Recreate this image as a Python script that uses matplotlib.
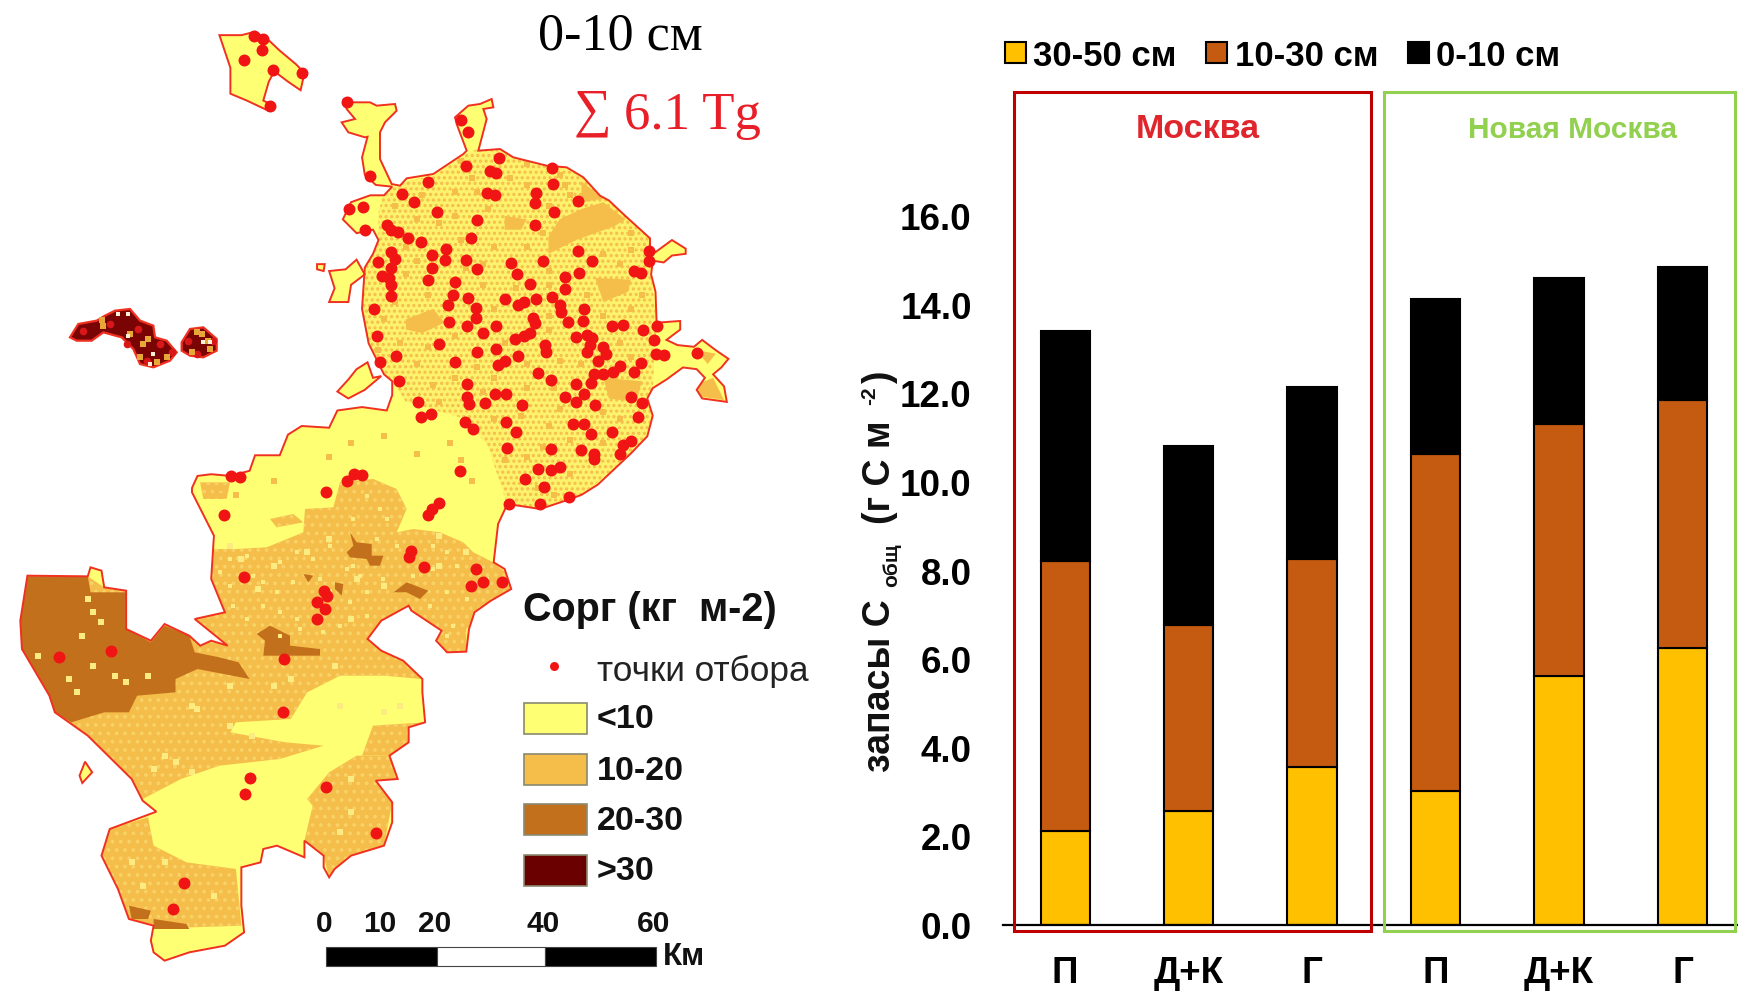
import matplotlib
matplotlib.use("Agg")
import matplotlib.pyplot as plt
from matplotlib.patches import Polygon, Rectangle
import numpy as np

plt.rcParams['font.family'] = ['Liberation Sans', 'DejaVu Sans']
plt.rcParams['hatch.linewidth'] = 1.5

# stacked bars
groups = ["П", "Д+К", "Г", "П", "Д+К", "Г"]
depth_30_50 = [2.10, 2.56, 3.56, 3.01, 5.60, 6.25]
depth_10_30 = [6.10, 4.21, 4.68, 7.60, 5.70, 5.58]
depth_0_10 = [5.19, 4.04, 3.89, 3.50, 3.29, 3.02]
y_ticks = [0, 2, 4, 6, 8, 10, 12, 14, 16]

map_classes = ["<10", "10-20", "20-30", ">30"]
class_colors = ["#FFFF73", "#F5BE4A", "#C2701C", "#6B0000"]
scale_labels = ["0", "10", "20", "40", "60"]

def north(pts):
    return np.array(pts, dtype=float) / [1.823, 2.904]

def south(pts):
    return np.array(pts, dtype=float) / [1.823, 3.0] + [0, 480]

def crop(pts, x0, y0):
    return np.array(pts, dtype=float) / 3 + [x0, y0]

outline_a = [(1110,585),(1140,630),(1185,695),(1185,720),(1195,735),(1225,700),(1250,725),(1250,740),
    (1225,745),(1210,765),(1190,760),(1187,800),(1195,850),(1197,940),(1240,935),(1240,960),(1215,990),(1235,1005),
    (1265,1010),(1280,990),(1305,1020),(1328,1045),(1315,1070),(1300,1090),(1320,1125),(1325,1170),(1280,1160),
    (1270,1135),(1285,1100),(1270,1075),(1245,1070),(1215,1105),(1190,1130),(1180,1160),(1190,1210),(1180,1270),
    (1150,1320),(1120,1365),(1090,1410),(1060,1440)]
outline_b = [(1040,60),(985,90),(925,75),(908,135),(900,250),(920,270),(932,330),(895,365),(865,400),(855,450),
    (850,518),(815,520),(795,485),(805,455),(750,395),(745,380),(695,425),(670,480),(695,515),(735,545),(770,600),
    (770,640),(775,730),(745,745),(745,790),(710,830),(725,900),(685,905),(715,970),(715,1030),(700,1100),(640,1130),
    (610,1170),(600,1195),(590,1165),(590,1130),(555,1085),(555,1135),(505,1100),(480,1110),(475,1150),(440,1165),
    (440,1280),(445,1360),(410,1400),(345,1420),(300,1445),(280,1420),(275,1385),(280,1340),(235,1320),(215,1230),
    (185,1130),(200,1050),(285,998),(260,965),(240,900),(160,770),(100,700),(90,650),(40,510),(37,425),(50,290),
    (160,292),(165,265),(185,275),(190,325),(230,335),(230,450),(275,485),(300,435),(345,470),(365,500),(385,485),
    (415,500),(355,420),(410,400),(385,300),(390,170),(350,40)]
outline_c = [(350,1420),(360,1385),(385,1380),(420,1385),(455,1370),(465,1325),(510,1325),(525,1265),(550,1240),
    (600,1245),(615,1195),(660,1185),(705,1195),(715,1150),(715,1110),(700,1090),(672,1000),(660,900),(665,780),
    (680,740),(690,700),(680,670),(650,680),(625,640),(640,590),(675,570),(700,570),(715,545),(685,540),(665,510),
    (660,460),(670,400)]
# north rim, from a closer crop at x=320, y=90
outline_top = [(135,145),(85,130),(65,100),(105,90),(80,60),(70,30),(100,40),(150,40),(170,50),(225,45),(230,65),(195,100),
    (180,130),(180,210),(215,285),(240,290),(260,268),(340,255),(430,195),(440,185),(410,105),(405,85),(445,50),(480,45),
    (515,30),(520,55),(490,60),(500,90),(475,185),(540,180),(580,205),(680,230),(740,235),(790,265),(840,320)]
west_lobe_1 = [(615,1140),(635,1105),(650,1075),(670,1055),(680,1100),(695,1095),(665,1135),(635,1160)]
west_lobe_2 = [(600,880),(610,840),(600,790),(630,785),(650,757),(665,800),(640,830),(635,880)]
tiny_lobe = [(578,770),(592,770),(590,790),(578,785)]
north_island = [(400,105),(440,105),(465,95),(490,120),(510,150),(540,190),(555,215),(548,265),(525,240),(500,210),
    (490,240),(480,295),(500,310),(490,325),(450,295),(420,275),(420,200)]
sw_islet = [(155,848),(168,880),(150,912),(145,890)]

# west islet, crop at x=60, y=300
dark_left = [(30,115),(55,75),(110,65),(135,50),(165,35),(210,30),(240,65),(280,80),(285,115),(320,125),(350,160),(330,185),
    (280,205),(240,195),(220,150),(185,115),(130,100),(95,125),(50,125)]
dark_right = [(365,130),(390,90),(430,85),(470,120),(470,155),(430,175),(390,170),(365,155)]
islet_orange = [(125,62),(130,80),(210,105),(265,120),(250,135),(410,100),(425,105),(445,125),(450,150),(290,190),(320,175),(240,175),(395,160)]
islet_white = [(175,45),(205,45),(205,110),(430,130),(450,130),(280,165),(270,195)]
islet_red = [(70,95),(150,75),(235,90),(200,135),(300,135),(335,160),(385,125),(460,125),(410,165),(260,185)]

moscow_mottle = [(700,560),(750,525),(790,515),(850,450),(875,432),(910,432),(930,455),(1000,480),(1045,495),(1110,585),
    (1185,695),(1187,800),(1197,940),(1190,1130),(1180,1160),(1190,1210),(1180,1270),(1120,1365),(1060,1440),(1020,1470),
    (975,1480),(925,1470),(890,1300),(850,1220),(740,1170),(715,1110),(700,1090),(672,1000),(660,900),(665,780),(690,700),(690,620)]
moscow_orange = [
    [(1000,690),(1020,640),(1060,610),(1100,590),(1140,640),(1120,660),(1050,700),(1000,740)],
    [(920,630),(960,640),(950,670),(920,670)],
    [(740,930),(790,900),(810,940),(770,970),(740,960)],
    [(1085,810),(1150,815),(1145,850),(1100,880)],
    [(1060,530),(1100,580),(1060,590)],
    [(1100,1100),(1170,1110),(1160,1170),(1110,1160)],
    [(1255,1130),(1300,1100),(1320,1165),(1280,1155)],
    [(1270,1020),(1305,1030),(1290,1060)],
    [(600,880),(610,800),(650,780),(640,860)],
]
# orange band, upper edge from a crop at x=180, y=420
band_top = [(100,390),(170,390),(260,385),(370,340),(375,270),(460,265),(480,190),(580,180),(650,210),(680,270),(650,340),
    (700,330),(780,340),(850,370),(880,400),(940,430),(990,470)]
band_rest = [(932,330),(850,450),(850,518),(815,520),(750,395),(695,425),(670,480),(735,545),(770,600),(700,590),(620,590),
    (560,640),(530,720),(430,730),(420,760),(520,790),(590,800),(510,840),(400,860),(330,900),(260,960),(240,900),(160,770),
    (100,700),(40,510),(37,425),(50,290),(160,292),(190,325),(230,335),(275,485),(300,435),(345,470),(415,500),(355,420),
    (410,400),(385,300)]
band_patches = [[(60,190),(150,190),(140,240),(70,240)], [(270,300),(340,285),(370,310),(290,325)]]
south_orange = [
    [(710,830),(725,900),(685,905),(715,970),(700,1100),(640,1130),(600,1195),(590,1130),(555,1085),(570,980),(560,960),
     (600,880),(650,830)],
    [(680,740),(775,730),(745,790),(710,830),(660,830)],
    [(200,1050),(270,1015),(280,1100),(340,1150),(430,1170),(440,1340),(350,1345),(280,1340),(235,1320),(215,1230),(185,1130)],
]
south_brown = [
    [(50,292),(160,292),(165,340),(230,340),(230,450),(275,490),(300,440),(345,470),(355,520),(400,535),(435,550),(455,600),
     (360,570),(320,600),(320,640),(250,650),(235,700),(190,700),(130,730),(100,700),(90,650),(40,510),(37,425)],
    [(235,1280),(275,1295),(270,1320),(240,1320)],
    [(280,1320),(340,1335),(345,1350),(280,1350)],
]
band_brown = [
    [(510,340),(530,370),(575,375),(575,410),(610,410),(600,440),(570,440),(560,420),(510,415),(500,400),(520,380)],
    [(640,520),(680,490),(745,515),(720,540),(680,520)],
    [(370,465),(400,470),(385,490)],
    [(465,490),(490,495),(485,530),(465,510)],
    [(230,645),(270,620),(330,650),(330,680),(420,690),(420,710),(250,710),(255,665)],
]
# mottling of the raster, typed by hand
speck_orange = [(720,600),(770,570),(830,560),(860,520),(930,520),(960,540),(1030,540),(1040,570),(800,650),(830,630),
    (890,610),(1000,600),(740,720),(760,760),(840,700),(900,720),(960,720),(880,770),(1000,790),(1100,740),(1150,730),
    (1130,770),(740,800),(880,830),(1000,830),(1070,860),(1170,860),(720,880),(780,860),(900,900),(1000,920),(1100,920),
    (1150,900),(730,1000),(780,1010),(830,980),(1000,960),(1130,1000),(760,1060),(870,1070),(960,1060),(1020,1050),
    (790,1120),(900,1100),(960,1130),(1020,1190),(1000,1240),(990,1300),(1040,1280),(1100,1290),(960,1330),(1040,1380),
    (980,1420),(1010,1440),(920,1340),(900,1220),(1130,1220),(1100,1200),(950,1210),(880,1140),(800,1170),(830,1100),
    (1060,1060),(1150,1040),(920,1000),(850,780),(940,840),(1050,660),(990,680),(1150,680),(840,470),(960,480),(1020,510),
    (1080,560),(1010,1130),(1120,1140),(700,930),(690,1020),(760,640),(870,560),(600,1330),(640,1290),(820,1290),(840,1340),
    (860,1400),(700,1270),(760,1320),(500,1400),(430,1440),(400,1420)]
speck_pale = [(420,200),(440,240),(500,260),(470,330),(560,220),(600,180),(650,300),(700,320),(800,260),(850,220),(800,170),
    (600,340),(640,420),(610,560),(530,600),(500,620),(420,620),(350,680),(360,690),(420,740),(460,770),(300,830),(320,850),
    (280,870),(350,880),(620,680),(700,700),(730,680),(640,900),(640,1000),(620,1060),(300,1150),(240,1150),(260,1220),(390,1250),
    (150,470),(170,400),(160,360),(185,430),(70,530),(125,600),(140,640),(230,610),(210,590),(270,590),(170,560)]
speck_band = [(150,420),(200,410),(300,430),(350,400),(400,420),(450,380),(500,450),(520,440),(540,470),(420,480),(250,490),
    (290,520),(340,490),(150,500),(220,470),(120,460),(600,270),(620,300),(560,230),(520,300),(590,360),(650,380),(700,400),
    (760,380),(800,400),(830,440),(880,460),(920,480),(800,520),(860,540),(760,450),(700,470),(610,480),(560,520),(510,550),
    (560,590),(480,620),(430,640),(350,600),(300,580),(250,560),(200,600),(160,560),(820,620),(800,650),(750,560),(300,650),(360,630)]

dots_north = [(463,108),(480,115),(478,148),(445,177),(497,207),(550,215),(492,312),(633,300),(840,350),(853,385),(910,462),
    (850,485),(893,500),(905,505),(1007,490),(780,530),(675,515),(1008,538),(888,562),(902,568),(733,567),(977,562),(975,592),
    (755,590),(1053,587),(637,610),(662,605),(797,618),(1010,620),(870,643),(975,657),(705,655),(712,672),(725,678),(665,672),
    (743,695),(767,705),(858,695),(1183,732),(1183,762),(712,735),(720,755),(813,727),(788,742),(812,757),(1053,733),(1080,762),
    (850,757),(990,762),(932,767),(690,765),(712,780),(788,782),(870,785),(1155,790),(1168,795),(1055,795),(697,803),(710,810),
    (942,800),(780,815),(1030,808),(713,830),(830,822),(967,828),(1030,842),(712,862),(825,860),(853,867),(920,870),(977,870),
    (1007,865),(955,880),(945,888),(1020,890),(817,888),(682,900),(867,898),(1065,900),(1022,910),(868,925),(972,925),(1035,937),
    (1063,935),(818,938),(975,940),(852,950),(905,950),(1115,950),(1135,947),(1197,950),(1172,962),(880,970),(967,970),(955,980),
    (938,987),(687,980),(1050,983),(1070,975),(1080,985),(1192,990),(800,1003),(993,1005),(1075,1005),(1100,1010),(905,1015),
    (870,1025),(995,1025),(1070,1025),(1105,1030),(1195,1032),(1210,1035),(1270,1028),(722,1037),(945,1038),(1090,1050),(920,1050),
    (908,1062),(830,1055),(692,1055),(1130,1067),(1168,1058),(1155,1082),(1118,1082),(1100,1088),(1082,1090),(980,1085),(1005,1105),
    (727,1110),(852,1117),(1078,1115),(1050,1118),(852,1155),(922,1147),(902,1147),(1065,1147),(1030,1157),(1150,1157),(855,1175),
    (885,1172),(762,1170),(1050,1170),(1170,1172),(1085,1178),(952,1180),(1163,1213),(785,1205),(768,1213),(848,1228),(922,1228),
    (1045,1233),(1065,1233),(862,1248),(940,1258),(1078,1262),(1115,1258),(1150,1285),(1135,1295),(925,1305),(1005,1308),(1060,1310),
    (1083,1320),(1130,1320),(1083,1335),(1020,1358),(980,1365),(1005,1367),(838,1372),(437,1387),(422,1385),(660,1382),(645,1378),
    (632,1400),(957,1395),(992,1418),(595,1433),(1037,1447),(928,1467),(985,1467)]
dots_south = [(408,108),(800,72),(788,90),(780,108),(750,215),(745,235),(773,265),(868,270),(880,310),(858,320),(915,310),
    (590,335),(597,350),(578,370),(592,390),(578,420),(445,295),(517,540),(108,533),(202,517),(515,698),(455,898),(447,945),
    (595,925),(685,1062),(335,1213),(315,1290)]

fig = plt.figure(figsize=(17.38, 9.95), dpi=100)

# left panel, one axes over the whole figure in pixels
mp = fig.add_axes([0, 0, 1, 1])
mp.set_xlim(0, 1738)
mp.set_ylim(995, 0)
mp.axis("off")

main_outline = np.vstack([north(outline_a), south(outline_b), north(outline_c), crop(outline_top, 320, 90)])
land = [main_outline, north(west_lobe_1), north(west_lobe_2), north(tiny_lobe), north(north_island), south(sw_islet)]
for shape in land:
    mp.add_patch(Polygon(shape, fc=class_colors[0], ec="none", zorder=1))

clip = Polygon(main_outline, transform=mp.transData)
mottle = Polygon(north(moscow_mottle), fc="#FDF26C", ec=class_colors[1], lw=0, hatch="...", zorder=2)
mp.add_patch(mottle)
mottle.set_clip_path(clip)
for shape in moscow_orange:
    p = Polygon(north(shape), fc=class_colors[1], ec="none", zorder=2.2)
    mp.add_patch(p)
    p.set_clip_path(clip)

orange_shapes = [np.vstack([crop(band_top, 180, 420), south(band_rest)])]
orange_shapes += [crop(s, 180, 420) for s in band_patches]
orange_shapes += [south(s) for s in south_orange]
for shape in orange_shapes:
    p = Polygon(shape, fc=class_colors[1], ec="#F8D266", lw=0, hatch="..", zorder=2.4)
    mp.add_patch(p)
    p.set_clip_path(clip)
brown_shapes = [south(s) for s in south_brown] + [crop(s, 180, 420) for s in band_brown]
for shape in brown_shapes:
    p = Polygon(shape, fc=class_colors[2], ec="none", zorder=2.6)
    mp.add_patch(p)
    p.set_clip_path(clip)

xy = north(speck_orange)
mp.scatter(xy[:, 0], xy[:, 1], s=22, marker="s", c=class_colors[1], lw=0, zorder=2.8)
xy = south(speck_pale)
mp.scatter(xy[:, 0], xy[:, 1], s=14, marker="s", c="#FBEB80", lw=0, zorder=2.8)
xy = crop(speck_band, 180, 420)
mp.scatter(xy[:, 0], xy[:, 1], s=12, marker="s", c="#FBEB80", lw=0, zorder=2.8)

for shape in [dark_left, dark_right]:
    mp.add_patch(Polygon(crop(shape, 60, 300), fc="#7A0404", ec="#F03020", lw=1.6, zorder=2.9))
xy = crop(islet_red, 60, 300)
mp.scatter(xy[:, 0], xy[:, 1], s=30, c="#D81818", lw=0, zorder=2.92)
xy = crop(islet_orange, 60, 300)
mp.scatter(xy[:, 0], xy[:, 1], s=14, marker="s", c="#E8A838", lw=0, zorder=2.94)
xy = crop(islet_white, 60, 300)
mp.scatter(xy[:, 0], xy[:, 1], s=12, marker="s", c="#FFF0D8", lw=0, zorder=2.96)

for shape in land:
    mp.add_patch(Polygon(shape, fc="none", ec="#F03020", lw=1.4, zorder=3))

xy = np.vstack([north(dots_north), south(dots_south)])
mp.scatter(xy[:, 0], xy[:, 1], s=74, c="#F01414", lw=0, zorder=4)

mp.text(620, 36, "0-10 см", family="Liberation Serif", fontsize=37.5, ha="center", va="center")
mp.text(592, 113, "∑", family=["Liberation Serif", "DejaVu Serif", "DejaVu Sans"], fontsize=38, color="#E81E28", ha="center", va="center")
mp.text(624, 116, "6.1 Tg", family="Liberation Serif", fontsize=38, color="#E81E28", ha="left", va="center")

# map legend
mp.text(523, 610, "Сорг (кг  м-2)", fontsize=28.5, weight="bold", color="#111111", va="center")
mp.scatter([554], [667], s=42, c="#F01414", lw=0, zorder=4)
mp.text(597, 671, "точки отбора", fontsize=25.3, color="#222222", va="center")
swatch_top = [704, 755, 805, 856]
for name, color, top in zip(map_classes, class_colors, swatch_top):
    mp.add_patch(Rectangle((524, top), 63, 31, fc=color, ec="#8a8a70", lw=1.2, zorder=3))
    mp.text(597, top + 16, name, fontsize=24.5, weight="bold", color="#111111", va="center")

# scale bar
scale_x = [324, 380, 435, 543, 654]
for name, x in zip(scale_labels, scale_x):
    mp.text(x, 924, name, fontsize=21.5, weight="bold", color="#111111", ha="center", va="center")
mp.add_patch(Rectangle((326, 948), 111, 19, fc="black", ec="#444444", lw=0.8))
mp.add_patch(Rectangle((437, 948), 108, 19, fc="white", ec="#444444", lw=0.8))
mp.add_patch(Rectangle((545, 948), 110.5, 19, fc="black", ec="#444444", lw=0.8))
mp.text(663, 957, "Км", fontsize=22.5, weight="bold", color="#111111", va="center")

# right panel
top_px, bottom_px, left_px = 90.0, 925.5, 1003.0
ax = fig.add_axes([left_px / 1738, 1 - bottom_px / 995, 1 - left_px / 1738, (bottom_px - top_px) / 995])
ax.patch.set_alpha(0)
x = np.arange(len(groups))
d1 = np.array(depth_30_50)
d2 = np.array(depth_10_30)
d3 = np.array(depth_0_10)
ax.bar(x, d1, 0.4, color="#FFC000", edgecolor="black", lw=1.5, label="30-50 см")
ax.bar(x, d2, 0.4, bottom=d1, color="#C55A11", edgecolor="black", lw=1.5, label="10-30 см")
ax.bar(x, d3, 0.4, bottom=d1 + d2, color="black", edgecolor="black", lw=1.5, label="0-10 см")
ax.set_xlim(-0.504, 5.45)
ax.set_ylim(0, (bottom_px - top_px) / 44.3)
ax.set_xticks(x, groups)
ax.set_yticks(y_ticks, [f"{v:.1f}" for v in y_ticks])
ax.tick_params(length=0)
ax.tick_params(axis="y", pad=22.5)
ax.tick_params(axis="x", pad=22)
for lab in ax.get_xticklabels() + ax.get_yticklabels():
    lab.set_fontsize(26.5)
    lab.set_fontweight("bold")
for side in ["top", "left", "right"]:
    ax.spines[side].set_visible(False)
ax.spines["bottom"].set_linewidth(1.6)

ax.legend(loc="lower left", bbox_to_anchor=(1005 / 1738, 1 - 73 / 995), bbox_transform=fig.transFigure, ncol=3,
          frameon=False, prop={"size": 25, "weight": "bold"}, borderpad=0, borderaxespad=0, handlelength=0.6,
          handleheight=0.55, handletextpad=0.22, columnspacing=0.85)

# group frames
frames = [(1014, 93, 357, 839, "#C00000"), (1383.5, 93, 351.5, 839, "#92D050")]
for fx, fy, fw, fh, fc in frames:
    fig.add_artist(Rectangle((fx, fy), fw, fh, fill=False, ec=fc, lw=2.2, zorder=5, transform=mp.transData))
mp.text(1198, 130, "Москва", fontsize=24.5, weight="bold", color="#E0262D", ha="center", va="center")
mp.text(1573, 130, "Новая Москва", fontsize=21.5, weight="bold", color="#92D050", ha="center", va="center")

# y label is put together from pieces because of the subscript and superscript
lab = {"rotation": 90, "weight": "bold", "color": "#111111", "ha": "left", "va": "baseline", "rotation_mode": "anchor"}
mp.text(890, 772, "запасы С", fontsize=27, **lab)
mp.text(897, 587, "общ", fontsize=15, **lab)
mp.text(890, 524, "(г С м", fontsize=27, **lab)
mp.text(875, 405, "-2", fontsize=15, **lab)
mp.text(890, 384, ")", fontsize=27, **lab)

fig.savefig("out.png", dpi=100)
